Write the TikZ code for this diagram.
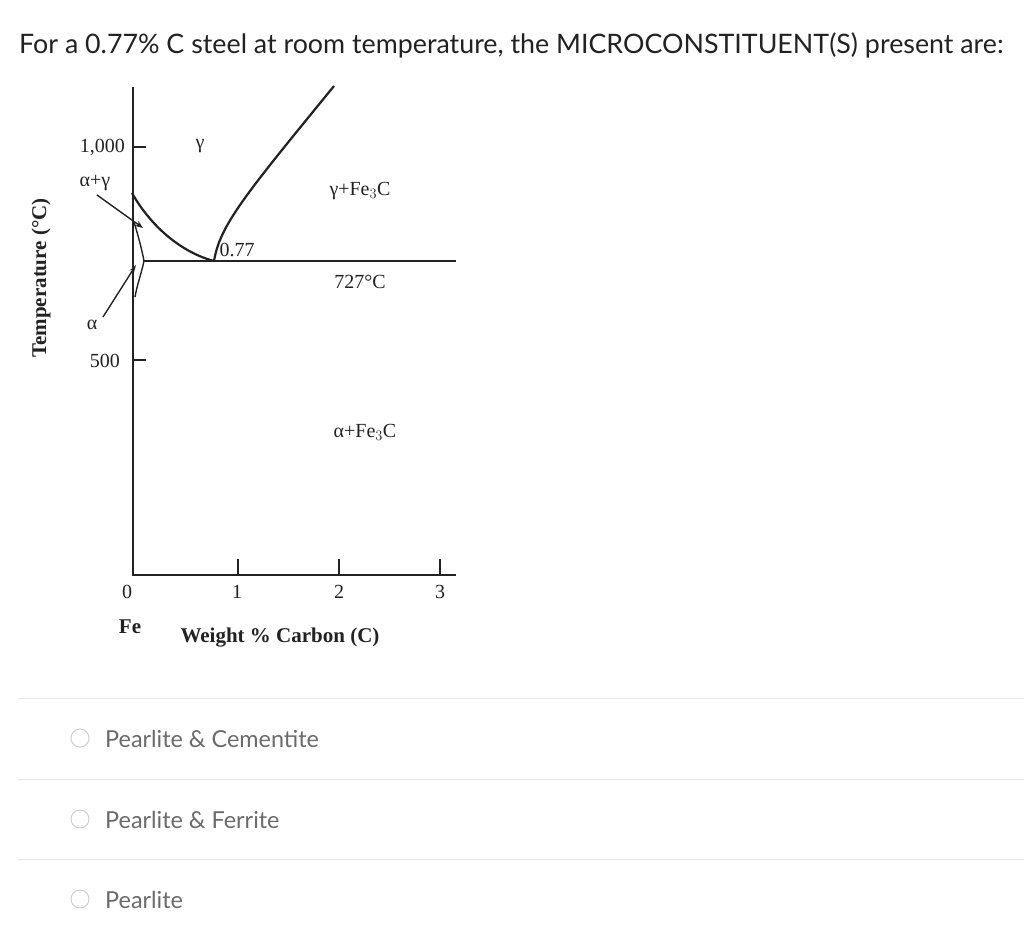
\documentclass[tikz,border=0pt]{standalone}
\usepackage{fontspec}
\setmainfont{Liberation Serif}
\newfontfamily\uifont{Lato}
\usetikzlibrary{arrows.meta}
\definecolor{sep}{HTML}{E6E6E6}
\definecolor{opt}{HTML}{6B6B6B}
\definecolor{ring}{HTML}{CFCFCF}
\definecolor{ink}{HTML}{222222}
\tikzset{
  axis/.style={line width=2.4pt, ink},
  phase/.style={line width=2.2pt, ink},
  thin/.style={line width=1.4pt, ink},
  lab/.style={font=\fontsize{20}{20}\selectfont, text=ink, inner sep=0pt},
  boldlab/.style={font=\fontsize{21}{21}\selectfont\bfseries, text=ink, inner sep=0pt},
  optxt/.style={font=\uifont\fontsize{23.4}{23.4}\selectfont, text=opt, anchor=west, inner sep=0pt},
  radio/.style={circle, draw=ring, line width=1pt, minimum size=18pt, inner sep=0pt},
  seprule/.style={sep, line width=1pt}
}
\begin{document}
\begin{tikzpicture}[x=1pt,y=-1pt]
\useasboundingbox[fill=white] (0,0) rectangle (1024,930);
% title
\node[font=\uifont\fontsize{26.8}{26.8}\selectfont, text=ink, anchor=west, inner sep=0pt] (title) at (19,45) {For a 0.77\% C steel at room temperature, the MICROCONSTITUENT(S) present are:};
% axes
\coordinate (ytop) at (133,87);
\coordinate (orig) at (133,575);
\coordinate (xend) at (456,575);
\draw[axis] (ytop) -- (orig) -- (xend);
% y ticks
\coordinate (t1000) at (133,147);
\coordinate (t500) at (133,360);
\draw[thin] (t1000) -- ++(13,0);
\draw[thin] (t500) -- ++(13,0);
\node[lab, anchor=east] (l1000) at (125,147) {1,000};
\node[lab, anchor=east] (l500) at (120,361) {500};
% x ticks
\coordinate (x1) at (238,575);
\coordinate (x2) at (339,575);
\coordinate (x3) at (440,575);
\draw[thin] (x1) -- ++(0,-16);
\draw[thin] (x2) -- ++(0,-16);
\draw[thin] (x3) -- ++(0,-16);
\node[lab] (n0) at (127,592) {0};
\node[lab] (n1) at (237,592) {1};
\node[lab] (n2) at (339,592) {2};
\node[lab] (n3) at (440,592) {3};
\node[boldlab] (fe) at (130,627) {Fe};
\node[boldlab] (xlab) at (280,638) {Weight \% Carbon (C)};
\node[boldlab, rotate=90] (ylab) at (41,278) {Temperature (°C)};
% eutectoid line
\coordinate (eut) at (214,261);
\coordinate (eutL) at (143,261);
\coordinate (eutR) at (456,261);
\draw[phase] (eutL) -- (eutR);
% A3 line
\coordinate (a3top) at (132,193);
\draw[phase] (a3top) .. controls (150,225) and (180,252) .. (eut);
% Acm line
\coordinate (acmtop) at (334,86);
\draw[phase] (eut) .. controls (220,225) and (245,195) .. (acmtop);
% alpha region
\coordinate (al1) at (134,222);
\coordinate (al2) at (144,261);
\coordinate (al3) at (135,297);
\draw[thin] (al1) .. controls (138,235) and (142,250) .. (al2) .. controls (141,275) and (137,285) .. (al3);
% labels
\node[lab] (gam) at (200,146) {γ};
\node[lab] (ag) at (95,183) {α+γ};
\node[lab] (gfe) at (360,191) {γ+Fe$_3$C};
\node[lab] (p077) at (237,250) {0.77};
\node[lab] (t727) at (360,282) {727°C};
\node[lab] (alp) at (92,325) {α};
\node[lab] (afe) at (365,432) {α+Fe$_3$C};
% pointer arrows
\coordinate (agtip) at (143,228);
\coordinate (agtail) at (97,195);
\draw[thin, -{Stealth[length=8pt,width=6pt]}] (agtail) -- (agtip);
\coordinate (atip) at (136,265);
\coordinate (atail) at (103,317);
\draw[thin, -{Stealth[length=8pt,width=5pt]}] (atail) -- (atip);
% separators
\coordinate (s1a) at (18,698); \coordinate (s1b) at (1024,698);
\coordinate (s2a) at (18,779); \coordinate (s2b) at (1024,779);
\coordinate (s3a) at (18,859); \coordinate (s3b) at (1024,859);
\draw[seprule] (s1a) -- (s1b);
\draw[seprule] (s2a) -- (s2b);
\draw[seprule] (s3a) -- (s3b);
% options
\node[radio] (r1) at (80,738) {};
\node[radio] (r2) at (80,819) {};
\node[radio] (r3) at (80,899) {};
\node[optxt] (o1) at (105,739) {Pearlite \& Cementite};
\node[optxt] (o2) at (105,820) {Pearlite \& Ferrite};
\node[optxt] (o3) at (105,900) {Pearlite};
\end{tikzpicture}
\end{document}
